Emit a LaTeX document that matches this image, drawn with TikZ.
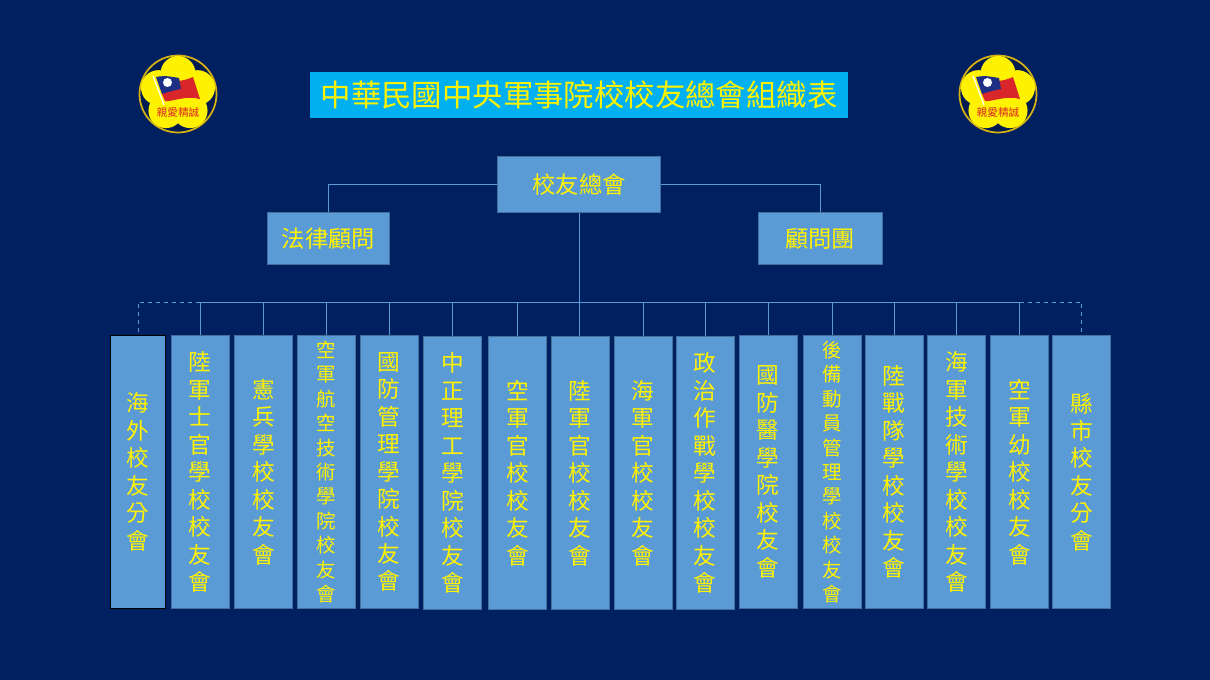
\documentclass[tikz,border=0pt]{standalone}
\usepackage{fontspec}
\setmainfont{Noto Sans CJK TC}
\definecolor{navybg}{HTML}{002060}
\definecolor{boxblue}{HTML}{5B9BD5}
\definecolor{boxedge}{HTML}{41719C}
\definecolor{titleblue}{HTML}{00B0F0}
\definecolor{sealgold}{HTML}{FFF200}
\definecolor{sealring}{HTML}{D9B310}
\definecolor{flagred}{HTML}{D8262A}
\definecolor{flagblue}{HTML}{1F2F86}
\tikzset{
  headbox/.style={draw=boxedge, line width=0.75pt, fill=boxblue, text=yellow, inner sep=0pt,
    font=\fontsize{17.5}{21}\selectfont},
  colbox/.style={draw=boxedge, line width=0.75pt, fill=boxblue, text=yellow, inner sep=0pt,
    minimum width=43.5pt, minimum height=204.5pt, align=center,
    font=\fontsize{17}{20.6}\selectfont},
  colsmall/.style={colbox, font=\fontsize{14.6}{18.3}\selectfont},
  link/.style={draw=boxblue, line width=0.75pt},
  optlink/.style={link, dashed}
}
\begin{document}
\begin{tikzpicture}[x=0.75pt, y=-0.75pt]

\def\emblem#1{
\fill[color=navybg!85!black] (0,0) circle (38.5);
\draw[color=sealring, line width=1.3pt] (0,0) circle (38.5);
\fill[color=sealgold] (0,0) circle (24);
\foreach \a in {-90,-18,54,126,198} {
  \fill[color=sealgold] (\a:20.5) circle (17.5);
}
\fill[color=flagred] (-2,-13) .. controls (5,-13) and (10,-15) .. (15,-17)
  -- (22,5) .. controls (8,1) and (-6,8) .. (-13,7) -- (-16,0) -- cycle;
\fill[color=flagblue] (-22,-17) .. controls (-12,-19) and (-6,-17) .. (1,-16)
  -- (3,-5) .. controls (-3,-4) and (-10,-2) .. (-16,0) -- cycle;
\draw[color=white, line width=0.9pt] (-25,-18) -- (-14,11);
\fill[color=white] (-10.5,-11.5) circle (4.5);
\node[text=flagred, inner sep=0pt, font=\fontsize{8}{9}\selectfont] (#1) at (0,19) {親愛精誠};
}

\useasboundingbox (0,0) rectangle (1210,680);
\fill[color=navybg] (0,0) rectangle (1210,680);

\begin{scope}[shift={(178,94)}]
\emblem{sealL}
\end{scope}
\begin{scope}[shift={(998,94)}]
\emblem{sealR}
\end{scope}

\node[fill=titleblue, text=yellow, inner sep=0pt, minimum width=403.5pt, minimum height=34.5pt,
  font=\fontsize{22.8}{26}\selectfont] (title) at (579,95) {中華民國中央軍事院校校友總會組織表};

\node[headbox, minimum width=122pt, minimum height=42.5pt] (main) at (579,184.5) {校友總會};
\node[headbox, minimum width=92pt, minimum height=39.5pt] (legal) at (328.5,238.5) {法律顧問};
\node[headbox, minimum width=93pt, minimum height=39pt] (advisor) at (820,239) {顧問團};

\node[colbox, draw=black, minimum width=41.5pt] (box1) at (138,472) {海\\外\\校\\友\\分\\會};
\node[colbox] (box2) at (200,472) {陸\\軍\\士\\官\\學\\校\\校\\友\\會};
\node[colbox] (box3) at (263.5,472) {憲\\兵\\學\\校\\校\\友\\會};
\node[colsmall] (box4) at (326.5,472) {空\\軍\\航\\空\\技\\術\\學\\院\\校\\友\\會};
\node[colbox] (box5) at (389,472) {國\\防\\管\\理\\學\\院\\校\\友\\會};
\node[colbox] (box6) at (452.5,473) {中\\正\\理\\工\\學\\院\\校\\友\\會};
\node[colbox] (box7) at (517.5,473) {空\\軍\\官\\校\\校\\友\\會};
\node[colbox] (box8) at (580,473) {陸\\軍\\官\\校\\校\\友\\會};
\node[colbox] (box9) at (643,473) {海\\軍\\官\\校\\校\\友\\會};
\node[colbox] (box10) at (705,473) {政\\治\\作\\戰\\學\\校\\校\\友\\會};
\node[colbox] (box11) at (768,472) {國\\防\\醫\\學\\院\\校\\友\\會};
\node[colsmall] (box12) at (832,472) {後\\備\\動\\員\\管\\理\\學\\校\\校\\友\\會};
\node[colbox] (box13) at (894,472) {陸\\戰\\隊\\學\\校\\校\\友\\會};
\node[colbox] (box14) at (956.5,472) {海\\軍\\技\\術\\學\\校\\校\\友\\會};
\node[colbox] (box15) at (1019.5,472) {空\\軍\\幼\\校\\校\\友\\會};
\node[colbox] (box16) at (1081.5,472) {縣\\市\\校\\友\\分\\會};

% top of the chart
\draw[link] (main.west) -| (legal.north);
\draw[link] (main.east) -| (advisor.north);
\coordinate (busy) at (0,302.5);
\draw[link] (main.south) -- (main.south |- box8.north);
\draw[link] (box2.north |- busy) -- (box15.north |- busy);
\draw[optlink] (box2.north |- busy) -| (box1.north);
\draw[optlink] (box15.north |- busy) -| (box16.north);

\draw[link] (box2.north) -- (box2.north |- busy);
\draw[link] (box3.north) -- (box3.north |- busy);
\draw[link] (box4.north) -- (box4.north |- busy);
\draw[link] (box5.north) -- (box5.north |- busy);
\draw[link] (box6.north) -- (box6.north |- busy);
\draw[link] (box7.north) -- (box7.north |- busy);
\draw[link] (box9.north) -- (box9.north |- busy);
\draw[link] (box10.north) -- (box10.north |- busy);
\draw[link] (box11.north) -- (box11.north |- busy);
\draw[link] (box12.north) -- (box12.north |- busy);
\draw[link] (box13.north) -- (box13.north |- busy);
\draw[link] (box14.north) -- (box14.north |- busy);
\draw[link] (box15.north) -- (box15.north |- busy);

\end{tikzpicture}
\end{document}
